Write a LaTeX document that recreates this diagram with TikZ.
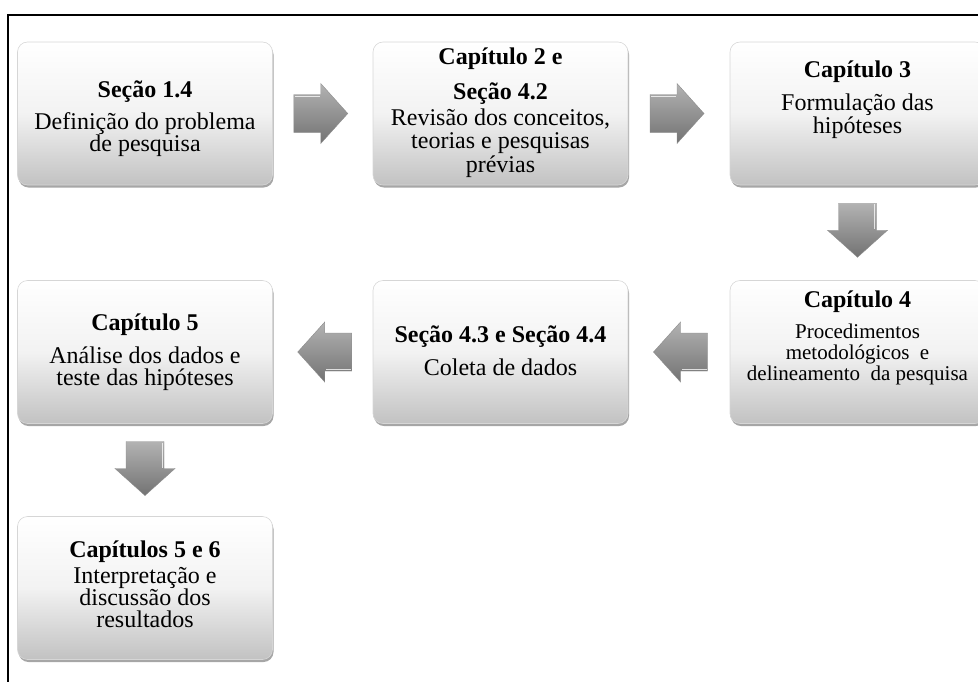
\documentclass[tikz,border=0pt]{standalone}
\usepackage{fontspec}
\setmainfont{Liberation Serif}
\usetikzlibrary{shadows,calc}

% fixed leading inside the boxes, even where lines come close
\newcommand{\boxfont}[2]{\fontsize{#1}{#2}\selectfont\lineskiplimit=-100pt\lineskip=0pt\relax}

\tikzset{
  stagebox/.style={rounded corners=10pt, minimum width=255pt, minimum height=143pt,
    draw=black!16, line width=0.6pt, inner sep=0pt,
    top color=white, bottom color=black!24, middle color=black!5,
    drop shadow={shadow xshift=1pt, shadow yshift=-2.5pt, opacity=0.35, fill=black}},
  % the base anchor of these multi-line texts sits on the last line
  stagetext/.style={align=center, anchor=base, inner sep=0pt,
    font=\boxfont{24}{22}},
  arrowbody/.style={top color=black!30, bottom color=black!55, draw=black!45, line width=0.4pt},
  blockarrow/.pic={
    \path[arrowbody] (-27,-19) -- (0,-19) -- (0,-30) -- (27,0) -- (0,30) -- (0,19) -- (-27,19) -- cycle;
    \draw[white, opacity=0.75, line width=1.2pt] (-26,-17.3) -- (-1,-17.3);
  }
}

\begin{document}
\begin{tikzpicture}[x=1pt,y=-1pt]
  \useasboundingbox (0,0) rectangle (978,681);
  \clip (0,0) rectangle (978,681);

  % outer frame
  \draw[line width=2pt] (8,700) -- (8,15) -- (995,15);

  % stage boxes
  \node[stagebox] (b1) at (145,113.5) {};
  \node[stagebox] (b2) at (500.5,113.5) {};
  \node[stagebox] (b3) at (857.5,113.5) {};
  \node[stagebox] (b6) at (857.5,352) {};
  \node[stagebox] (b5) at (500.5,352) {};
  \node[stagebox] (b4) at (145,352) {};
  \node[stagebox] (b7) at (145,588) {};

  % box texts
  \node[stagetext] (t1) at (145,151) {\textbf{Seção 1.4}\\[10pt]Definição do problema\\de pesquisa};
  \node[stagetext, font=\boxfont{24}{23.5}] (t2) at (500.5,172)
    {\textbf{Capítulo 2 e}\\[11.5pt]\textbf{Seção 4.2}\\[2.5pt]Revisão dos conceitos,\\teorias e pesquisas\\prévias};
  \node[stagetext, font=\boxfont{24}{23}] (t3) at (857.5,133)
    {\textbf{Capítulo 3}\\[10pt]Formulação das\\hipóteses};
  \node[stagetext, font=\boxfont{21}{21}] (t6) at (857.5,380)
    {\boxfont{24}{21}\textbf{Capítulo 4}\\[10pt]\boxfont{21}{21}Procedimentos\\metodológicos\ \ e\\delineamento\ \ da pesquisa};
  \node[stagetext] (t5) at (500.5,375) {\textbf{Seção 4.3 e Seção 4.4}\\[11pt]Coleta de dados};
  \node[stagetext, font=\boxfont{24}{22}] (t4) at (145,385)
    {\textbf{Capítulo 5}\\[11pt]Análise dos dados e\\teste das hipóteses};
  \node[stagetext, font=\boxfont{24}{22}] (t7) at (145,627)
    {\textbf{Capítulos 5 e 6}\\[4pt]Interpretação e\\discussão dos\\resultados};

  % flow arrows between the boxes
  \pic at ($(b1.east)!0.5!(b2.west)+(-2,0)$) {blockarrow};
  \pic at ($(b2.east)!0.5!(b3.west)+(-2,0)$) {blockarrow};
  \pic[rotate=-90] at ($(b3.south)!0.5!(b6.north)+(0,-2.5)$) {blockarrow};
  \pic[rotate=180] at ($(b6.west)!0.5!(b5.east)+(1.5,0)$) {blockarrow};
  \pic[rotate=180] at ($(b5.west)!0.5!(b4.east)+(2,0)$) {blockarrow};
  \pic[rotate=-90] at ($(b4.south)!0.5!(b7.north)+(0,-1.5)$) {blockarrow};
\end{tikzpicture}
\end{document}
